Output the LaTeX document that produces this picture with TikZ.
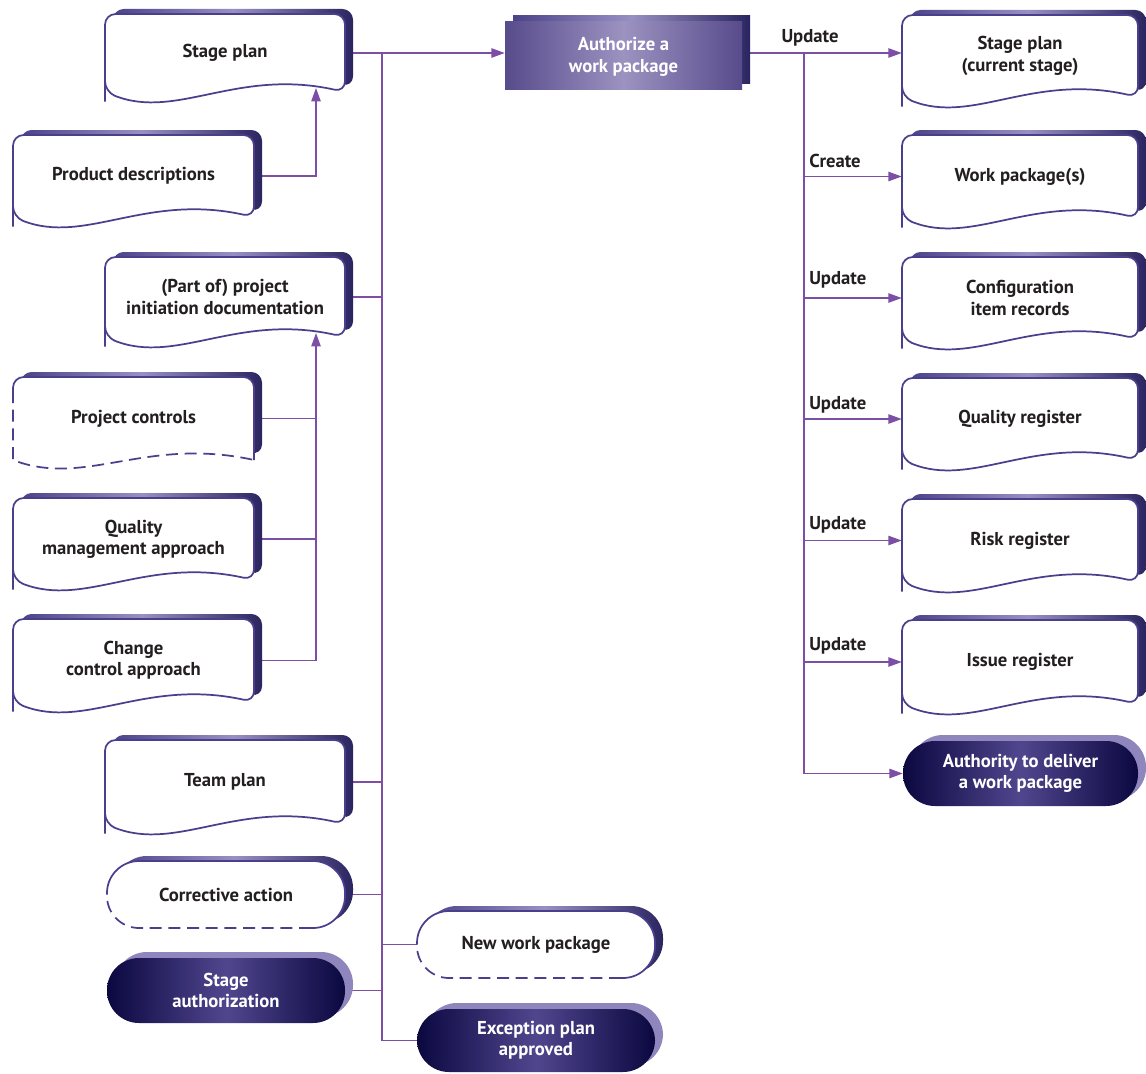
\documentclass[tikz,border=0pt]{standalone}
\usepackage{fontspec}
\setmainfont{PT Sans}
\usetikzlibrary{arrows.meta}
\definecolor{wirecol}{HTML}{7D4EA5}
\definecolor{edgecol}{HTML}{4A3F8C}
\definecolor{backL}{HTML}{4B4389}
\definecolor{backM}{HTML}{9890C2}
\definecolor{backR}{HTML}{2A2560}
\definecolor{navy}{HTML}{0B0840}
\definecolor{navyM}{HTML}{50468E}
\definecolor{lav}{HTML}{8E86BC}
\definecolor{txt}{HTML}{231F20}
\definecolor{authL}{HTML}{574B8B}
\definecolor{authM}{HTML}{9C93C1}
\pgfdeclarelayer{bg}\pgfdeclarelayer{lines}\pgfdeclarelayer{shapes}
\pgfsetlayers{bg,lines,shapes,main}
\tikzset{
  doctext/.style={font=\bfseries\fontsize{14}{16}\selectfont, text=txt, align=center, inner sep=0pt},
  wtext/.style={doctext, text=white},
  wire/.style={draw=wirecol, line width=1.1pt},
  arr/.style={wire, -{Triangle[length=10pt,width=7pt]}},
  frontedge/.style={draw=edgecol, line width=1.3pt},
  backshade/.style={left color=backL, right color=backR, middle color=backM},
  docr/.style={rounded corners=8pt},
  dashpat/.style={dash pattern=on 9pt off 5pt},
}
\newcommand\docpath[4]{({#1},{#4-1}) -- ({#1},{#2}) -- ({#3},{#2}) -- ({#3},{#4}) .. controls ({#1+0.55*(#3-#1)},{#4-24}) and ({#1+0.3*(#3-#1)},{#4+28}) .. ({#1},{#4}) -- cycle}
\newcommand\docnode[6]{%
  \node[doctext,minimum width={(#4-#2)*0.75pt},minimum height={(#5-#3)*0.75pt}] (#1) at ({(#2+#4)/2},{(#3+#5)/2}) {#6};
  \begin{pgfonlayer}{shapes}
    \shade[backshade,docr,shift={(8,-5)}] \docpath{#2}{#3}{#4}{#5};
    \fill[white,docr] \docpath{#2}{#3}{#4}{#5};
    \draw[frontedge,docr] \docpath{#2}{#3}{#4}{#5};
  \end{pgfonlayer}}
\newcommand\dashdocnode[6]{%
  \node[doctext,minimum width={(#4-#2)*0.75pt},minimum height={(#5-#3)*0.75pt}] (#1) at ({(#2+#4)/2},{(#3+#5)/2}) {#6};
  \begin{pgfonlayer}{shapes}
    \shade[backshade,docr,shift={(8,-5)}] \docpath{#2}{#3}{#4}{#5};
    \fill[white,docr] \docpath{#2}{#3}{#4}{#5};
    \draw[frontedge,docr] ({#2},{#3+14}) -- ({#2},{#3}) -- ({#4},{#3}) -- ({#4},{#5});
    \draw[frontedge,dashpat] ({#2},{#3+14}) -- ({#2},{#5}) .. controls ({#2+0.3*(#4-#2)},{#5+28}) and ({#2+0.55*(#4-#2)},{#5-24}) .. ({#4},{#5});
  \end{pgfonlayer}}
\newcommand\darkpill[6]{%
  \node[wtext,minimum width={(#4-#2)*0.75pt},minimum height={(#5-#3)*0.75pt}] (#1) at ({(#2+#4)/2},{(#3+#5)/2}) {#6};
  \begin{pgfonlayer}{shapes}
    \fill[lav,rounded corners=24pt] ({#2+8},{#3-6}) rectangle ({#4+8},{#5-6});
    \shade[left color=navy,right color=navy,middle color=navyM,rounded corners=24pt] ({#2},{#3}) rectangle ({#4},{#5});
  \end{pgfonlayer}}
\newcommand\dashpill[6]{%
  \node[doctext,minimum width={(#4-#2)*0.75pt},minimum height={(#5-#3)*0.75pt}] (#1) at ({(#2+#4)/2},{(#3+#5)/2}) {#6};
  \begin{pgfonlayer}{shapes}
    \shade[backshade,rounded corners=24pt] ({#2+8},{#3-5}) rectangle ({#4+8},{#5-5});
    \fill[white,rounded corners=24pt] ({#2},{#3}) rectangle ({#4},{#5});
    \draw[frontedge,rounded corners=24pt] ({#2},{(#3+#5)/2}) -- ({#2},{#3}) -- ({#4},{#3}) -- ({#4},{#5}) -- ({#4-34},{#5});
    \draw[frontedge,dashpat,rounded corners=24pt] ({#4-34},{#5}) -- ({#2},{#5}) -- ({#2},{(#3+#5)/2});
  \end{pgfonlayer}}
\begin{document}
\begin{tikzpicture}[x=0.75pt,y=-0.75pt]
\useasboundingbox (0,0) rectangle (1146,1074);
\begin{pgfonlayer}{bg}
  \fill[white] (0,0) rectangle (1146,1074);
\end{pgfonlayer}

% left column A
\docnode{sp}{105}{14}{345}{92}{Stage plan}
\docnode{pid}{105}{257}{345}{337}{(Part of) project\\initiation documentation}
\docnode{tp}{105}{740}{345}{824}{Team plan}
% left column B
\docnode{pd}{13}{135}{254}{217}{Product descriptions}
\dashdocnode{pc}{13}{377}{254}{460}{Project controls}
\docnode{qm}{13}{498}{254}{580}{Quality\\management approach}
\docnode{cc}{13}{619}{254}{702}{Change\\control approach}
% pills bottom left
\dashpill{ca}{107}{861}{345}{928}{Corrective action}
\darkpill{sa}{107}{958}{345}{1023}{Stage\\authorization}
\dashpill{nwp}{417}{911}{655}{978}{New work package}
\darkpill{ex}{417}{1009}{655}{1072}{Exception plan\\approved}

% central process
\node[wtext,minimum width={237*0.75pt},minimum height={68*0.75pt}] (auth) at (623.5,57) {Authorize a\\work package};
\begin{pgfonlayer}{shapes}
  \shade[backshade] (513,16) rectangle (750,84);
  \shade[left color=authL,right color=authL,middle color=authM] (505,22) rectangle (742,90);
\end{pgfonlayer}

% right column
\docnode{spc}{902}{15}{1138}{97}{Stage plan\\(current stage)}
\docnode{wp}{902}{135}{1138}{218}{Work package(s)}
\docnode{cir}{902}{257}{1138}{339}{Configuration\\item records}
\docnode{qr}{902}{378}{1138}{460}{Quality register}
\docnode{rr}{902}{499}{1138}{582}{Risk register}
\docnode{ir}{902}{620}{1138}{704}{Issue register}
\darkpill{atd}{903}{741}{1138}{806}{Authority to deliver\\a work package}

% labels
\node[doctext] (u1) at (810,38) {Update};
\node[doctext,anchor=west] (c1) at (809,161) {Create};
\node[doctext,anchor=west] (u2) at (809,280) {Update};
\node[doctext,anchor=west] (u3) at (809,405) {Update};
\node[doctext,anchor=west] (u4) at (809,525) {Update};
\node[doctext,anchor=west] (u5) at (809,646) {Update};

% coordinates
\coordinate (lt) at (382,53);
\coordinate (rt) at (804,53);
\coordinate (spin) at (316,88);
\coordinate (pidin) at (316,333);

\begin{pgfonlayer}{lines}
  \draw[arr] (sp.east) -- (sp.east -| auth.west);
  \draw[wire] (lt) -- (lt |- ex.west) -- (ex.west);
  \foreach \n in {pid,tp,ca,sa} \draw[wire] (\n.east) -- (\n.east -| lt);
  \draw[wire] (lt |- nwp.west) -- (nwp.west);
  \draw[arr] (pd.east) -| (spin);
  \draw[arr] (cc.east) -| (pidin);
  \draw[wire] (pc.east) -- (pc.east -| pidin);
  \draw[wire] (qm.east) -- (qm.east -| pidin);
  \draw[arr] (auth.east |- rt) -- (rt -| spc.west);
  \draw[wire] (rt) -- (rt |- atd.west);
  \foreach \n in {wp,cir,qr,rr,ir,atd} \draw[arr] (rt |- \n.west) -- (\n.west);
\end{pgfonlayer}
\end{tikzpicture}
\end{document}
